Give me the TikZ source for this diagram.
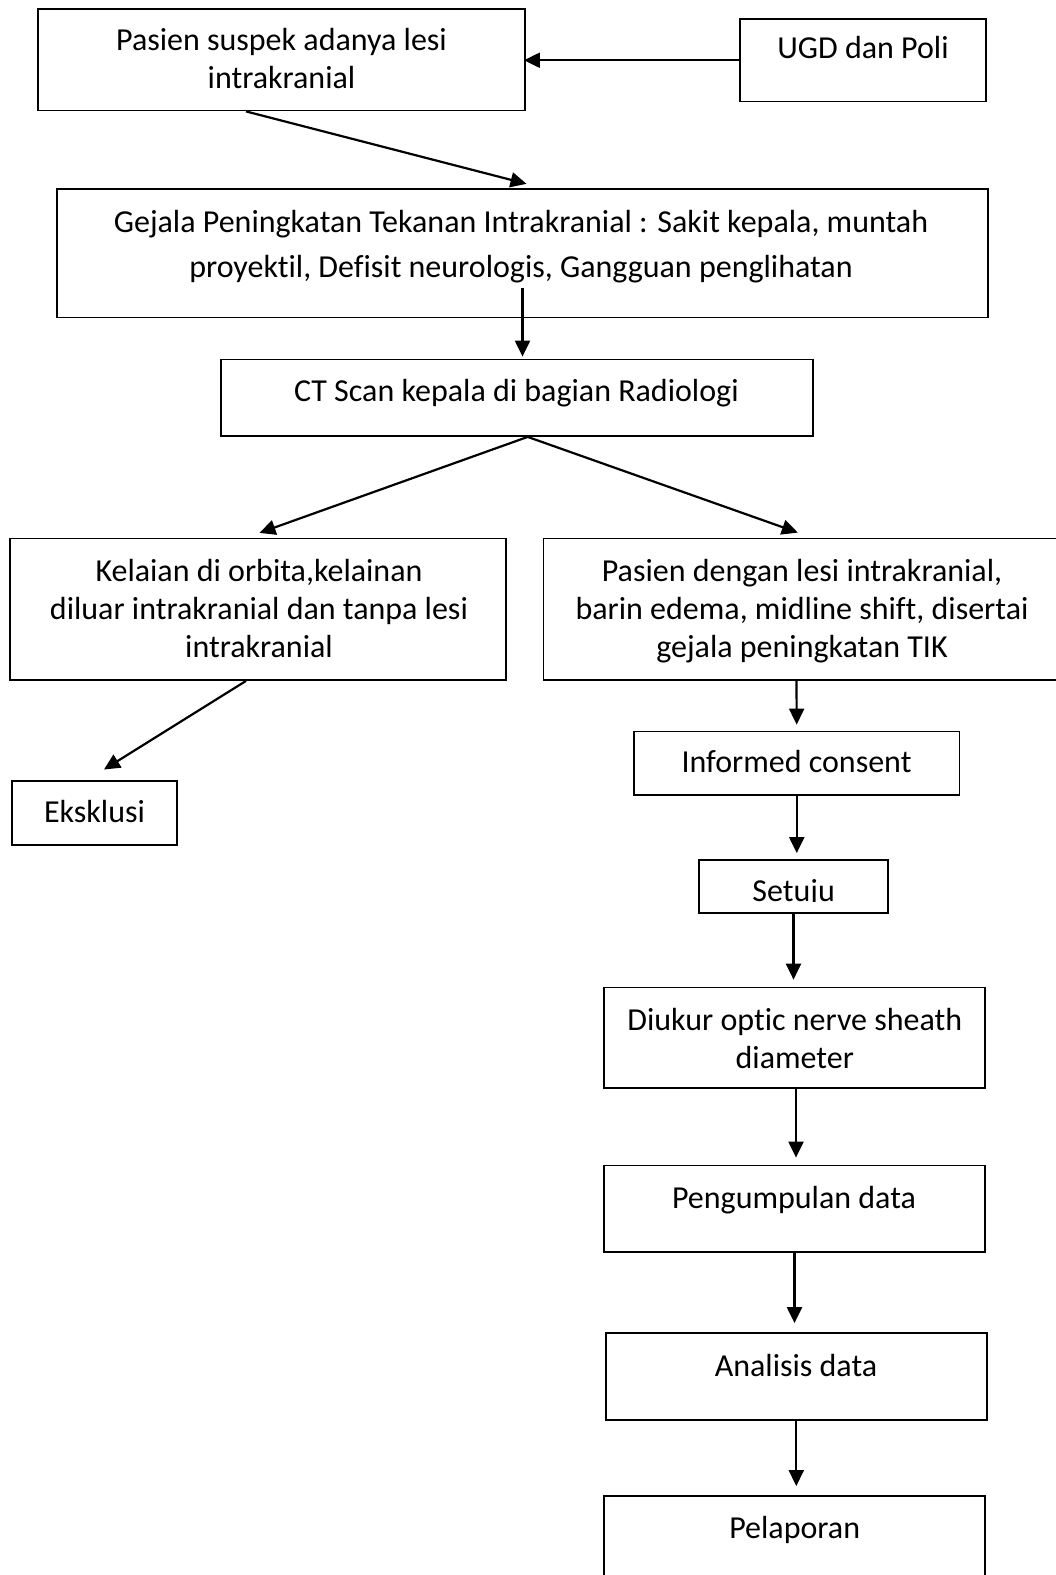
\documentclass[tikz,border=0pt]{standalone}
\usepackage{fontspec}
\setmainfont{Carlito}[Ligatures=CommonOff]
\usetikzlibrary{arrows.meta}

\tikzset{
  box/.style={draw,line width=1.8pt,inner sep=0pt},
  txt/.style={align=center,inner sep=0pt,font=\fontsize{32}{38}\selectfont},
  arr/.style={line width=2.2pt,-{Triangle[width=15pt,length=16pt]}},
}

\begin{document}
\begin{tikzpicture}[x=1pt,y=-1pt]
\useasboundingbox (0,0) rectangle (1056,1575);
\clip (0,0) rectangle (1056,1575);

% boxes
\node[box,minimum width=487pt,minimum height=101.5pt] (pasien) at (281.5,59.75) {};
\node[box,minimum width=246pt,minimum height=82.5pt] (ugd) at (863,60.25) {};
\node[box,minimum width=931pt,minimum height=128.5pt] (gejala) at (522.5,253.25) {};
\node[box,minimum width=592pt,minimum height=76.5pt] (ct) at (517,397.75) {};
\node[box,minimum width=496pt,minimum height=141.5pt] (kelainan) at (258,609.25) {};
\node[box,minimum width=517pt,minimum height=141.5pt] (lesi) at (802,609.25) {};
\node[box,minimum width=165pt,minimum height=64pt] (eksklusi) at (94.5,813) {};
\node[box,minimum width=325.5pt,minimum height=63.5pt] (consent) at (796.75,763.25) {};
\node[box,minimum width=189pt,minimum height=53pt] (setuju) at (793.5,886.5) {};
\node[box,minimum width=381pt,minimum height=100.5pt] (diukur) at (794.5,1037.8) {};
\node[box,minimum width=381pt,minimum height=86.5pt] (kumpul) at (794.5,1208.75) {};
\node[box,minimum width=380.6pt,minimum height=86.6pt] (analisis) at (796.3,1376.3) {};
\node[box,minimum width=381pt,minimum height=88pt] (lapor) at (794.5,1540) {};

% texts
\node[txt] (pasien-t) at (281.5,58.5) {Pasien suspek adanya lesi\\intrakranial};
\node[txt] (ugd-t) at (863,47.5) {UGD dan Poli};
\node[txt,font=\fontsize{32}{45}\selectfont] (gejala-t) at (521,247) {Gejala Peningkatan Tekanan Intrakranial : Sakit kepala, muntah\\proyektil, Defisit neurologis, Gangguan penglihatan};
\node[txt] (ct-t) at (516.5,393) {CT Scan kepala di bagian Radiologi};
\node[txt] (kelainan-t) at (259,608) {Kelaian di orbita,kelainan\\diluar intrakranial dan tanpa lesi\\intrakranial};
\node[txt] (lesi-t) at (802,611) {Pasien dengan lesi intrakranial,\\barin edema, midline shift, disertai\\gejala peningkatan TIK};
\node[txt] (eksklusi-t) at (94.5,811) {Eksklusi};
\node[txt] (consent-t) at (796.5,761) {Informed consent};
\begin{scope}
\clip (setuju.north west) rectangle ([yshift=12]setuju.south east);
\node[txt] (setuju-t) at (793.7,893) {Setuju};
\end{scope}
\node[txt] (diukur-t) at (794.8,1038) {Diukur optic nerve sheath\\diameter};
\node[txt] (kumpul-t) at (794,1200.6) {Pengumpulan data};
\node[txt] (analisis-t) at (796,1365) {Analisis data};
\node[txt] (lapor-t) at (794.7,1530) {Pelaporan};

% arrows
\draw[arr,shorten >=-2pt] (ugd.west) -- (ugd.west -| pasien.east);
\draw[arr,shorten >=17pt] ([xshift=-35.5pt]pasien.south) -- ([xshift=20.5pt]gejala.north);
\draw[arr,shorten >=2pt] ([yshift=30pt]gejala.south) -- (gejala.south |- ct.north);
\draw[arr,shorten >=14pt] ([xshift=10.7pt]ct.south) -- ([xshift=-11.7pt]kelainan.north);
\draw[arr,shorten >=15pt] ([xshift=10.7pt]ct.south) -- ([xshift=10pt]lesi.north);
\draw[arr,shorten >=20pt] ([xshift=-12pt]kelainan.south) -- ([xshift=-7.5pt]eksklusi.north);
\draw[arr,shorten >=6pt] ([xshift=-5.5pt]lesi.south) -- (consent.north);
\draw[arr,shorten >=6pt] (consent.south) -- (consent.south |- setuju.north);
\draw[arr,shorten >=7pt] (setuju.south) -- (setuju.south |- diukur.north);
\draw[arr,shorten >=7pt] ([xshift=1.5pt]diukur.south) -- ([xshift=1.5pt]kumpul.north);
\draw[arr,shorten >=9pt] (kumpul.south) -- (kumpul.south |- analisis.north);
\draw[arr,shorten >=9pt] (analisis.south) -- (analisis.south |- lapor.north);

\end{tikzpicture}
\end{document}
